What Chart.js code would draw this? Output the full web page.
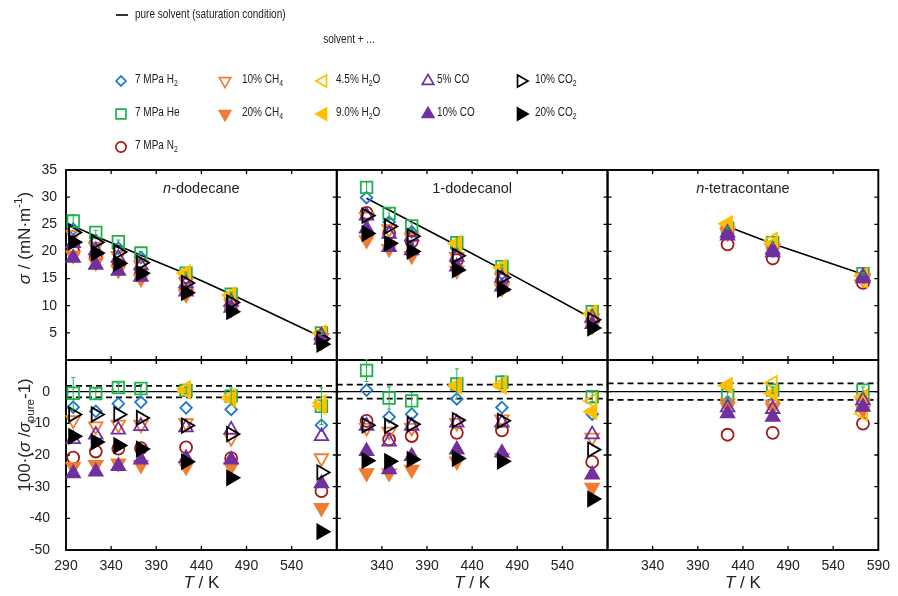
<!DOCTYPE html>
<html>
<head>
<meta charset="utf-8">
<script src="https://cdn.jsdelivr.net/npm/chart.js@4.4.1/dist/chart.umd.min.js"></script>
<style>
  html, body { margin: 0; padding: 0; background: #fff; }
</style>
</head>
<body>
<canvas id="c" width="898" height="596"></canvas>
<script>
const FONT = "'Liberation Sans', Arial, Helvetica, sans-serif";

// temperatures (K) for each solvent
const tDodecane = [298, 323, 348, 373, 423, 473, 573];
const tDodecanol = [323, 348, 373, 423, 473, 573];
const tTetracontane = [423, 473, 573];

// series, in plotting order (rows of the tables below follow this order)
const seriesLabels = ['7 MPa H_{2}', '7 MPa He', '7 MPa N_{2}', '10% CH_{4}', '20% CH_{4}',
  '4.5% H_{2}O', '9.0% H_{2}O', '5% CO', '10% CO', '10% CO_{2}', '20% CO_{2}'];

// surface tension sigma / (mN/m)
const sigmaDodecane = [
  [24.1, 21.9, 20.6, 18.9, 15.1, 11.5, 4.6],
  [25.6, 23.5, 21.8, 19.7, 16.0, 12.1, 5.0],
  [20.0, 19.0, 17.5, 16.0, 13.1, 9.6, 3.6],
  [23.0, 20.9, 19.2, 17.5, 14.3, 10.4, 4.1],
  [19.3, 18.0, 16.6, 15.0, 12.1, 9.3, 3.3],
  [null, null, null, null, 16.1, 12.0, 5.0],
  [null, null, null, null, 15.9, 11.9, 5.0],
  [21.5, 20.2, 18.8, 17.4, 14.1, 10.7, 4.5],
  [18.8, 17.5, 16.4, 15.3, 12.6, 9.6, 3.7],
  [23.5, 21.7, 19.9, 17.9, 14.2, 10.6, 3.9],
  [21.7, 19.7, 17.8, 16.0, 12.4, 8.9, 2.9]
];
const sigmaDodecanol = [
  [29.9, 25.4, 23.6, 20.6, 15.9, 8.4],
  [31.8, 27.0, 24.7, 21.6, 17.2, 8.9],
  [27.1, 23.4, 21.8, 18.4, 14.7, 7.0],
  [26.4, 24.1, 22.5, 19.0, 15.2, 7.7],
  [22.1, 20.5, 19.2, 16.5, 13.2, 6.3],
  [null, null, null, 21.5, 17.1, 8.7],
  [null, null, null, 21.5, 17.0, 8.4],
  [26.6, 23.2, 22.7, 19.0, 15.1, 7.8],
  [24.2, 20.8, 20.2, 17.2, 13.5, 6.6],
  [26.6, 24.6, 22.8, 19.2, 15.2, 7.4],
  [23.3, 21.5, 20.0, 16.6, 13.0, 5.9]
];
const sigmaTetracontane = [
  [23.8, 20.7, 15.5],
  [24.3, 21.6, 15.9],
  [21.3, 18.7, 14.2],
  [23.7, 20.6, 15.2],
  [23.4, 20.4, 14.9],
  [25.1, 22.1, 14.7],
  [25.1, 21.4, 15.5],
  [23.4, 20.3, 15.4],
  [22.9, 19.8, 15.0],
  [null, null, null],
  [null, null, null]
];

// relative deviation 100*(sigma/sigma_pure - 1)
const devDodecane = [
  [-4.9, -6.2, -3.8, -3.3, -5.1, -5.6, -10.6],
  [-0.5, -0.6, 1.3, 1.0, 0.4, -1.4, -4.6],
  [-20.8, -18.9, -18.0, -17.8, -17.6, -21.0, -31.4],
  [-9.0, -10.9, -10.4, -10.4, -9.9, -14.6, -21.0],
  [-23.7, -23.1, -22.6, -23.1, -23.7, -23.7, -36.7],
  [null, null, null, null, 1.0, -1.5, -3.5],
  [null, null, null, null, 0.2, -2.4, -4.6],
  [-15.0, -13.6, -12.0, -10.9, -11.3, -12.0, -14.1],
  [-25.8, -25.3, -23.5, -21.5, -21.0, -21.5, -29.0],
  [-7.2, -7.2, -7.2, -8.3, -10.7, -13.4, -25.5],
  [-14.1, -15.9, -17.0, -18.1, -22.1, -27.2, -44.2]
];
const devDodecanol = [
  [0.5, -8.0, -7.1, -2.3, -5.0, -7.1],
  [6.7, -2.0, -2.9, 2.4, 3.0, -1.6],
  [-9.2, -15.1, -14.0, -13.0, -12.2, -22.2],
  [-11.4, -12.6, -11.4, -9.8, -8.7, -14.5],
  [-25.7, -25.7, -24.6, -22.0, -20.9, -30.3],
  [null, null, null, 2.0, 2.5, -2.9],
  [null, null, null, 1.7, 1.7, -6.3],
  [-10.8, -15.8, -10.8, -9.8, -9.8, -13.5],
  [-18.8, -24.6, -20.4, -18.3, -19.3, -26.2],
  [-10.6, -10.8, -10.3, -9.0, -9.2, -18.3],
  [-21.8, -22.0, -21.4, -21.1, -22.0, -33.9]
];
const devTetracontane = [
  [-3.2, -3.5, -2.1],
  [-1.1, 0.5, 0.5],
  [-13.6, -13.0, -10.1],
  [-3.7, -4.0, -3.7],
  [-4.8, -5.0, -5.8],
  [2.0, 2.7, -6.9],
  [1.9, -0.5, -1.6],
  [-5.0, -5.5, -2.7],
  [-6.9, -8.0, -4.8],
  [null, null, null],
  [null, null, null]
];

// error bars of the He series
const heErrSigma = [[1.2, 0.4, 0.3, 0.3, 0.2, 0.3, 0.3], [1.0, 0.9, 0.6, 1.0, 0.3, 0.1], [0.2, 0.2, 0.2]];
const heErrDev = [[5.0, 1.5, 1.2, 1.3, 1.0, 2.6, 5.8], [3.5, 3.5, 2.6, 4.8, 2.0, 1.5], [1.0, 1.0, 1.0]];

// pure solvent at saturation
const pureDodecaneT = [290, 323, 373, 423, 473, 581];
const pureDodecaneSigma = [25.3, 22.8, 19.3, 15.9, 12.1, 3.6];
const pureDodecanolT = [323, 423, 473, 581];
const pureDodecanolSigma = [29.8, 21.1, 16.7, 6.9];
const pureTetracontaneT = [423, 473, 573];
const pureTetracontaneSigma = [24.6, 21.4, 15.8];
const pureBand = [1.8, 2.2, 2.6]; // +/- band of the pure solvent in the deviation plot

const panelTitles = ['*n*-dodecane', '1-dodecanol', '*n*-tetracontane'];

// tick labels
const xTickLabels = [[290, 340, 390, 440, 490, 540], [340, 390, 440, 490, 540], [340, 390, 440, 490, 540, 590]];
const xTickMarks = [340, 390, 440, 490, 540];
const yTopLabels = [5, 10, 15, 20, 25, 30, 35];
const yBotLabels = [-50, -40, -30, -20, -10, 0];
const yTopMarks = [5, 10, 15, 20, 25, 30];
const yBotMarks = [-40, -30, -20, -10, 0];

// marker styles
const seriesColors = ['#1f78c8', '#22b24c', '#a51818', '#ef7d32', '#ef7d32', '#ffbf00', '#ffbf00',
  '#7030a0', '#7030a0', '#000000', '#000000'];
const seriesStyle = ['rectRot', 'rect', 'circle', 'triangle', 'triangle', 'triangle', 'triangle',
  'triangle', 'triangle', 'triangle', 'triangle'];
const seriesRotation = [0, 0, 0, 180, 180, 270, 270, 0, 0, 90, 90];
const seriesFilled = [false, false, false, false, true, false, true, false, true, false, true];
const seriesRadius = [5.8, 8.2, 6, 7.8, 7.8, 8.2, 8.2, 7.8, 7.8, 8.2, 8.2];
const legendCol = [0, 0, 0, 1, 1, 2, 2, 3, 3, 4, 4];
const legendRow = [0, 1, 2, 0, 1, 0, 1, 0, 1, 0, 1];
const legendMarkX = [121, 225, 323, 428, 521];
const legendTextX = [135, 242, 336, 437, 535];
const legendRowY = [80, 113, 146];

const solvents = [
  {x: 'x1', t: tDodecane, sigma: sigmaDodecane, dev: devDodecane, pT: pureDodecaneT, pS: pureDodecaneSigma},
  {x: 'x2', t: tDodecanol, sigma: sigmaDodecanol, dev: devDodecanol, pT: pureDodecanolT, pS: pureDodecanolSigma},
  {x: 'x3', t: tTetracontane, sigma: sigmaTetracontane, dev: devTetracontane, pT: pureTetracontaneT, pS: pureTetracontaneSigma}
];

const datasets = [];
solvents.forEach((s, si) => {
  // pure solvent line
  datasets.push({
    xAxisID: s.x, yAxisID: 'yT', showLine: true, pointRadius: 0, order: 1000,
    borderColor: '#000', borderWidth: 1.6, data: s.pT.map((t, k) => ({x: t, y: s.pS[k]}))
  });
  // zero line and band in the deviation plot
  datasets.push({
    xAxisID: s.x, yAxisID: 'yB', showLine: true, pointRadius: 0, order: 1000,
    borderColor: '#000', borderWidth: 1.3, data: [{x: 290, y: 0}, {x: 590, y: 0}]
  });
  [pureBand[si], -pureBand[si]].forEach(b => datasets.push({
    xAxisID: s.x, yAxisID: 'yB', showLine: true, pointRadius: 0, order: 1000,
    borderColor: '#000', borderWidth: 1.7, borderDash: [6, 4], data: [{x: 290, y: b}, {x: 590, y: b}]
  }));
  seriesLabels.forEach((lab, i) => {
    [['yT', s.sigma[i], heErrSigma[si]], ['yB', s.dev[i], heErrDev[si]]].forEach(([axis, vals, err]) => {
      const data = [], errors = [];
      s.t.forEach((t, k) => {
        if (vals[k] !== null) { data.push({x: t, y: vals[k]}); errors.push(err[k]); }
      });
      if (!data.length) return;
      datasets.push({
        label: lab, xAxisID: s.x, yAxisID: axis, data, order: 100 - i, clip: false,
        errors: i === 1 ? errors : null,
        pointStyle: seriesStyle[i], rotation: seriesRotation[i], pointRadius: seriesRadius[i],
        pointBorderWidth: 1.8, borderColor: seriesColors[i], pointBorderColor: seriesColors[i],
        pointBackgroundColor: seriesFilled[i] ? seriesColors[i] : 'rgba(0,0,0,0)'
      });
    });
  });
});

function parseRich(str) {
  const out = [];
  const re = /_\{([^}]*)\}|\^\{([^}]*)\}|\*([^*]*)\*|([^_^*]+)/g;
  let m;
  while ((m = re.exec(str))) {
    if (m[1] !== undefined) out.push([m[1], 'sub']);
    else if (m[2] !== undefined) out.push([m[2], 'sup']);
    else if (m[3] !== undefined) out.push([m[3], 'i']);
    else out.push([m[4], '']);
  }
  return out;
}

function richText(ctx, str, x, y, size, align) {
  const segs = parseRich(str).map(([t, st]) => {
    const fs = (st === 'sub' || st === 'sup') ? size * 0.68 : size;
    const font = (st === 'i' ? 'italic ' : '') + fs + 'px ' + FONT;
    ctx.font = font;
    return {t, st, font, w: ctx.measureText(t).width};
  });
  const total = segs.reduce((a, s) => a + s.w, 0);
  let cx = align === 'center' ? x - total / 2 : x;
  ctx.textAlign = 'left';
  ctx.textBaseline = 'middle';
  segs.forEach(s => {
    ctx.font = s.font;
    const dy = s.st === 'sub' ? size * 0.32 : s.st === 'sup' ? -size * 0.36 : 0;
    ctx.fillText(s.t, cx, y + dy);
    cx += s.w;
  });
}

function marker(ctx, i, x, y, r) {
  ctx.save();
  ctx.strokeStyle = seriesColors[i];
  ctx.fillStyle = seriesFilled[i] ? seriesColors[i] : 'rgba(0,0,0,0)';
  ctx.lineWidth = 1.7;
  Chart.helpers.drawPoint(ctx, {pointStyle: seriesStyle[i], rotation: seriesRotation[i], radius: r, borderWidth: 1.7}, x, y);
  ctx.restore();
}

const framePlugin = {
  id: 'frames',
  beforeDatasetsDraw(chart) {
    const ctx = chart.ctx;
    const yT = chart.scales.yT, yB = chart.scales.yB;
    ctx.save();
    ctx.strokeStyle = '#000';
    ['x1', 'x2', 'x3'].forEach(id => {
      const xs = chart.scales[id];
      [[yT, yTopMarks], [yB, yBotMarks]].forEach(([ys, marks]) => {
        ctx.lineWidth = 1.9;
        ctx.strokeRect(xs.left, ys.top, xs.right - xs.left, ys.bottom - ys.top);
        ctx.lineWidth = 1.3;
        ctx.beginPath();
        xTickMarks.forEach(v => {
          const px = xs.getPixelForValue(v);
          ctx.moveTo(px, ys.top); ctx.lineTo(px, ys.top + 4);
          ctx.moveTo(px, ys.bottom); ctx.lineTo(px, ys.bottom - 4);
        });
        marks.forEach(v => {
          const py = ys.getPixelForValue(v);
          ctx.moveTo(xs.left, py); ctx.lineTo(xs.left + 4, py);
          ctx.moveTo(xs.right, py); ctx.lineTo(xs.right - 4, py);
        });
        ctx.stroke();
      });
    });
    ctx.restore();
  },
  afterDatasetsDraw(chart) {
    const ctx = chart.ctx;
    chart.data.datasets.forEach((ds, i) => {
      if (!ds.errors) return;
      const meta = chart.getDatasetMeta(i);
      const ys = chart.scales[ds.yAxisID];
      ctx.save();
      ctx.strokeStyle = ds.borderColor;
      ctx.lineWidth = 1;
      ctx.beginPath();
      meta.data.forEach((pt, j) => {
        const d = ds.data[j], e = ds.errors[j];
        const y1 = ys.getPixelForValue(d.y + e), y2 = ys.getPixelForValue(d.y - e);
        ctx.moveTo(pt.x, y1); ctx.lineTo(pt.x, y2);
        ctx.moveTo(pt.x - 2, y1); ctx.lineTo(pt.x + 2, y1);
        ctx.moveTo(pt.x - 2, y2); ctx.lineTo(pt.x + 2, y2);
      });
      ctx.stroke();
      ctx.restore();
    });
  },
  afterDraw(chart) {
    const ctx = chart.ctx;
    ctx.save();
    ctx.fillStyle = '#222';
    // panel titles and x axis titles
    ['x1', 'x2', 'x3'].forEach((id, k) => {
      const xs = chart.scales[id];
      const cx = (xs.left + xs.right) / 2;
      richText(ctx, panelTitles[k], cx, 189, 14.5, 'center');
      richText(ctx, '*T* / K', cx, 583, 17, 'center');
    });
    // y axis titles
    ctx.save();
    ctx.translate(25, 238); ctx.rotate(-Math.PI / 2);
    richText(ctx, '*σ* / (mN·m^{-1})', 0, 0, 17, 'center');
    ctx.restore();
    ctx.save();
    ctx.translate(25, 435); ctx.rotate(-Math.PI / 2);
    richText(ctx, '100·(*σ* /*σ*_{pure}-1)', 0, 0, 17, 'center');
    ctx.restore();

    // legend
    ctx.strokeStyle = '#333';
    ctx.lineWidth = 2;
    ctx.beginPath(); ctx.moveTo(116, 15); ctx.lineTo(128, 15); ctx.stroke();
    const narrowText = (str, x, y, align) => {
      ctx.save(); ctx.translate(x, y); ctx.scale(0.82, 1);
      richText(ctx, str, 0, 0, 12.2, align);
      ctx.restore();
    };
    narrowText('pure solvent (saturation condition)', 135, 15, 'left');
    narrowText('solvent + ...', 349, 40, 'center');
    seriesLabels.forEach((lab, i) => {
      const y = legendRowY[legendRow[i]];
      marker(ctx, i, legendMarkX[legendCol[i]], y + 1, seriesRadius[i] * 0.85);
      narrowText(lab, legendTextX[legendCol[i]], y, 'left');
    });
    ctx.restore();
  }
};

function xScale(k) {
  return {
    type: 'linear', position: 'bottom', stack: 'cols', stackWeight: 1, min: 290, max: 590,
    grid: {display: false, drawTicks: false}, border: {display: false},
    ticks: {font: {family: FONT, size: 14}, color: '#222', padding: 8, maxRotation: 0, autoSkip: false},
    afterBuildTicks: s => { s.ticks = xTickLabels[k].map(v => ({value: v})); },
    afterFit: s => { s.height = 46; }
  };
}
function yScale(min, max, labels, pad) {
  return {
    type: 'linear', position: 'left', stack: 'rows', stackWeight: 1, min, max,
    grid: {display: false, drawTicks: false}, border: {display: false},
    ticks: {font: {family: FONT, size: 14}, color: '#222', padding: pad, autoSkip: false},
    afterBuildTicks: s => { s.ticks = labels.map(v => ({value: v})); },
    afterFit: s => { s.width = 66; }
  };
}

new Chart(document.getElementById('c'), {
  type: 'scatter',
  data: {datasets},
  options: {
    responsive: false, animation: false, devicePixelRatio: 1,
    layout: {padding: {top: 170, left: 0, right: 17, bottom: 0}},
    plugins: {legend: {display: false}, tooltip: {enabled: false}},
    scales: {
      x1: xScale(0), x2: xScale(1), x3: xScale(2),
      yB: yScale(-50, 10, yBotLabels, 16),
      yT: yScale(0, 35, yTopLabels, 9)
    }
  },
  plugins: [framePlugin]
});
</script>
</body>
</html>
